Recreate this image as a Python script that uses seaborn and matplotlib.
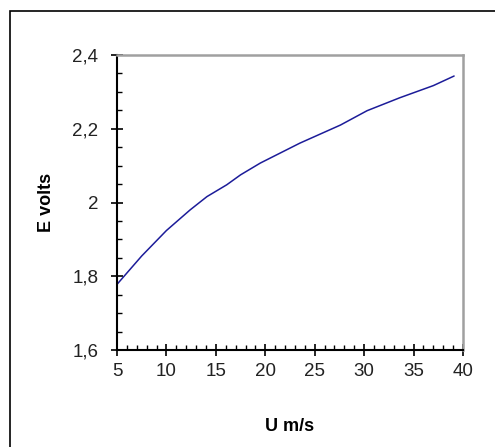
import seaborn as sns
import matplotlib.pyplot as plt
import matplotlib.ticker as mticker
from matplotlib.patches import Rectangle
import pandas as pd

# values
u_ms = [5.0, 7.5, 10.0, 12.4, 14.1, 16.1, 17.5, 19.5, 23.5, 27.6, 30.3, 33.6, 37.0, 39.1]
e_volts = [1.778, 1.855, 1.924, 1.980, 2.016, 2.048, 2.075, 2.107, 2.161, 2.210, 2.249, 2.284, 2.317, 2.343]
x_ticks = [5, 10, 15, 20, 25, 30, 35, 40]
y_ticks = [1.6, 1.8, 2.0, 2.2, 2.4]

df = pd.DataFrame({"U": u_ms, "E": e_volts})

sns.set_theme(style="white")
plt.rcParams["font.family"] = ["Liberation Sans", "DejaVu Sans"]

fig = plt.figure(figsize=(4.95, 4.47), dpi=100)
ax = fig.add_axes([117 / 495, 1 - 350 / 447, (463 - 117) / 495, (350 - 55) / 447])

sns.lineplot(data=df, x="U", y="E", ax=ax, color="#1c1c99", linewidth=1.1)

ax.set_xlim(5, 40)
ax.set_ylim(1.6, 2.4)
ax.set_xticks(x_ticks)
ax.set_yticks(y_ticks)
ax.xaxis.set_minor_locator(mticker.MultipleLocator(1))
ax.yaxis.set_minor_locator(mticker.MultipleLocator(0.05))
fmt = mticker.FuncFormatter(lambda v, p: "{:g}".format(round(v, 2)).replace(".", ","))
ax.yaxis.set_major_formatter(fmt)
ax.xaxis.set_major_formatter(fmt)

ax.tick_params(which="major", direction="inout", length=9, width=1.2, color="black",
               labelsize=13.5, labelcolor="#222222")
ax.tick_params(axis="y", which="major", pad=9)
ax.tick_params(axis="x", which="major", pad=5)
ax.tick_params(which="minor", direction="in", length=3.5, width=1, color="black")
ax.tick_params(axis="both", which="both", bottom=True, left=True, top=False, right=False)

for side in ["left", "bottom"]:
    ax.spines[side].set_color("black")
    ax.spines[side].set_linewidth(1.5)
for side in ["top", "right"]:
    ax.spines[side].set_color("#a0a0a0")
    ax.spines[side].set_linewidth(1.8)

ax.set_xlabel("U m/s", fontsize=13, fontweight="bold", labelpad=27, color="black")
ax.set_ylabel("E volts", fontsize=13, fontweight="bold", labelpad=12, color="black")

# outer chart frame (right and bottom edges fall outside the image)
fig.patches.append(Rectangle((10 / 495, -0.1), 1.2, 1 - 11 / 447 + 0.1,
                             transform=fig.transFigure, fill=False,
                             edgecolor="black", linewidth=1.2))

fig.savefig("out.png", dpi=100)
